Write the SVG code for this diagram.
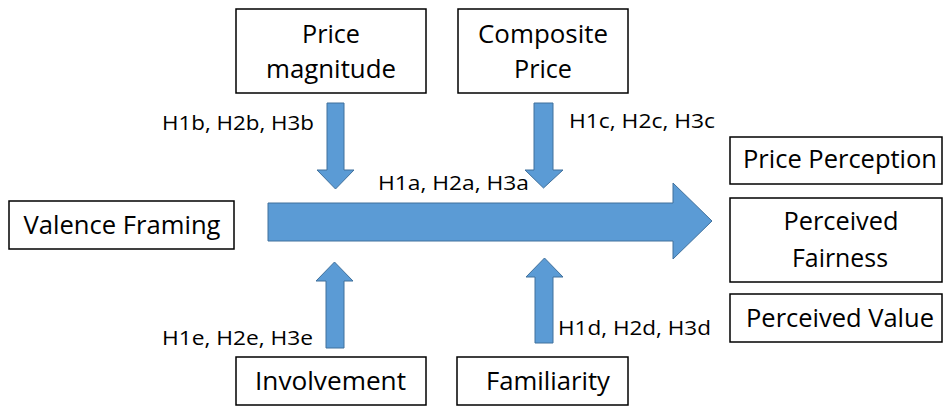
<svg xmlns="http://www.w3.org/2000/svg" width="943" height="406" viewBox="0 0 943 406">
  <style>
    .box { fill: #ffffff; stroke: #000000; stroke-width: 1.5; }
    .arrow { fill: #5b9bd5; stroke: #41719c; stroke-width: 1; stroke-linejoin: miter; }
    .t { font-family: "Open Sans", "Noto Sans", "Liberation Sans", sans-serif; font-size: 25.5px; fill: #000000; text-anchor: middle; }
    .lbl { font-family: "Open Sans", "Noto Sans", "Liberation Sans", sans-serif; font-size: 20px; fill: #000000; }
  </style>

  <!-- connectors: block arrows and hypothesis labels -->
  <g id="connectors">
    <!-- main effect -->
    <path class="arrow" d="M268,203 H673 V183 L712,221 L673,259 V241 H268 Z"/>
    <text class="lbl" x="378" y="190" textLength="151" lengthAdjust="spacingAndGlyphs">H1a, H2a, H3a</text>

    <!-- price magnitude -->
    <path class="arrow" d="M327,103 H344 V170 H354 L335.5,189 L317,170 H327 Z"/>
    <text class="lbl" x="162" y="130" textLength="152" lengthAdjust="spacingAndGlyphs">H1b, H2b, H3b</text>

    <!-- composite price -->
    <path class="arrow" d="M534,103 H553 V170 H563 L543.5,188 L525,170 H534 Z"/>
    <text class="lbl" x="569" y="128" textLength="146" lengthAdjust="spacingAndGlyphs">H1c, H2c, H3c</text>

    <!-- involvement -->
    <path class="arrow" d="M326,348 H344 V281 H353 L334.5,262 L316,281 H326 Z"/>
    <text class="lbl" x="162" y="345" textLength="151" lengthAdjust="spacingAndGlyphs">H1e, H2e, H3e</text>

    <!-- familiarity -->
    <path class="arrow" d="M535,343 H553 V277 H563 L544.5,258 L526,277 H535 Z"/>
    <text class="lbl" x="558" y="335" textLength="153" lengthAdjust="spacingAndGlyphs">H1d, H2d, H3d</text>
  </g>

  <g id="price-magnitude">
    <rect class="box" x="236" y="9" width="190" height="84"/>
    <text class="t" x="331" y="43" textLength="58" lengthAdjust="spacingAndGlyphs">Price</text>
    <text class="t" x="331" y="78" textLength="130" lengthAdjust="spacingAndGlyphs">magnitude</text>
  </g>

  <g id="composite-price">
    <rect class="box" x="458" y="9" width="170" height="84"/>
    <text class="t" x="543" y="43" textLength="130" lengthAdjust="spacingAndGlyphs">Composite</text>
    <text class="t" x="543" y="78" textLength="58" lengthAdjust="spacingAndGlyphs">Price</text>
  </g>

  <g id="valence-framing">
    <rect class="box" x="9" y="201" width="225" height="48"/>
    <text class="t" x="122" y="234" textLength="197" lengthAdjust="spacingAndGlyphs">Valence Framing</text>
  </g>

  <g id="price-perception">
    <rect class="box" x="730" y="137" width="212" height="47"/>
    <text class="t" x="840" y="168" textLength="194" lengthAdjust="spacingAndGlyphs">Price Perception</text>
  </g>

  <g id="perceived-fairness">
    <rect class="box" x="730" y="198" width="212" height="84"/>
    <text class="t" x="841" y="230" textLength="115" lengthAdjust="spacingAndGlyphs">Perceived</text>
    <text class="t" x="840" y="267" textLength="96" lengthAdjust="spacingAndGlyphs">Fairness</text>
  </g>

  <g id="perceived-value">
    <rect class="box" x="730" y="294" width="212" height="48"/>
    <text class="t" x="840" y="327" textLength="188" lengthAdjust="spacingAndGlyphs">Perceived Value</text>
  </g>

  <g id="involvement">
    <rect class="box" x="236" y="357" width="190" height="48"/>
    <text class="t" x="330.5" y="390" textLength="151" lengthAdjust="spacingAndGlyphs">Involvement</text>
  </g>

  <g id="familiarity">
    <rect class="box" x="457" y="357" width="171" height="48"/>
    <text class="t" x="548" y="390" textLength="124" lengthAdjust="spacingAndGlyphs">Familiarity</text>
  </g>
</svg>
